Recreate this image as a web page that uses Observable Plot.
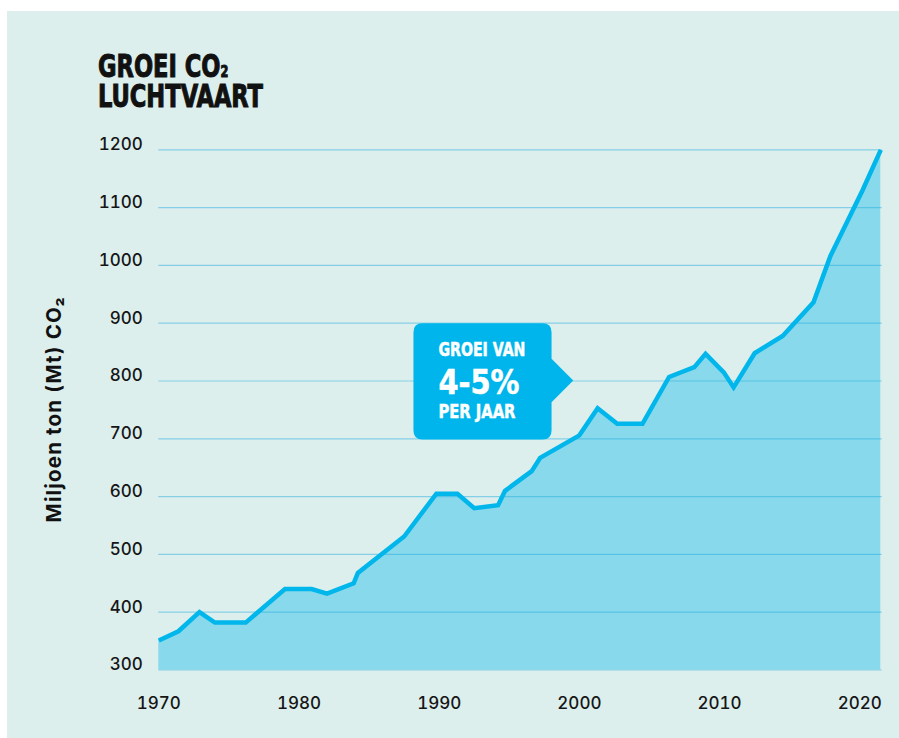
<!DOCTYPE html>
<html><head><meta charset="utf-8">
<script src="https://cdn.jsdelivr.net/npm/d3@7"></script>
<script src="https://cdn.jsdelivr.net/npm/@observablehq/plot@0.6"></script>
<style>
html,body{margin:0;padding:0;background:#fff;}
#card{position:absolute;left:7px;top:11px;width:892px;height:727px;background:#dcefed;overflow:hidden;}
.tl{position:absolute;left:91px;font-family:"DejaVu Sans",sans-serif;font-stretch:condensed;font-weight:700;font-size:32px;line-height:26px;height:26px;color:#111;transform-origin:0 0;white-space:nowrap;-webkit-text-stroke:1px #111;}
.tl span.l{display:inline-block;}
#chart{position:absolute;left:0;top:120px;}
</style></head><body>
<div id="card">
  <div class="tl" style="top:42px"><span class="l" id="t1">GROEI CO<span style="font-size:0.5em">2</span></span></div>
  <div class="tl" style="top:71.5px"><span class="l" id="t2">LUCHTVAART</span></div>
  <div id="chart"></div>
</div>
<script>
// Data
const years  = [1970.0, 1971.4, 1972.9, 1974.0, 1976.2, 1979.0, 1980.9, 1982.0, 1983.9, 1984.2, 1987.5, 1989.8, 1991.3, 1992.5, 1994.2, 1994.7, 1996.6, 1997.2, 2000.0, 2001.3, 2002.7, 2004.5, 2006.4, 2008.2, 2009.0, 2010.3, 2011.0, 2012.5, 2014.5, 2016.7, 2017.9, 2020.2, 2021.5];
const values = [351, 367, 400, 382, 382, 440, 440, 432, 450, 468, 531, 605, 605, 580, 585, 610, 644, 667, 706, 753, 726, 726, 807, 824, 847, 815, 789, 848, 878, 936, 1016, 1130, 1200];
const yTicks = [300, 400, 500, 600, 700, 800, 900, 1000, 1100, 1200];
const xTicks = [1970, 1980, 1990, 2000, 2010, 2020];
const axisLabel = "Miljoen ton (Mt) CO₂";
const noteLines = ["GROEI VAN", "4-5%", "PER JAAR"];
const note = {x1: 1988.2, x2: 1998.05, y1: 698, y2: 899, tipX: 1999.6, tipY: 800};

const data = years.map((year, i) => ({year, value: values[i]}));

const plot = Plot.plot({
  width: 892, height: 607,
  marginTop: 18.3, marginBottom: 68.5, marginLeft: 151.3, marginRight: 17.3,
  style: {background: "transparent", fontFamily: "Inter, 'Open Sans', sans-serif", fontSize: "17px", color: "#161616", overflow: "visible"},
  x: {domain: [1970, 2021.6]},
  y: {domain: [300, 1200]},
  marks: [
    Plot.areaY(data, {x: "year", y1: 300, y2: "value", fill: "#89d9ec"}),
    Plot.gridY(yTicks, {stroke: "#1ba8dd", strokeOpacity: 0.45, strokeWidth: 1.2}),
    Plot.lineY(data, {x: "year", y: "value", stroke: "#00b6eb", strokeWidth: 4.5, strokeLinejoin: "miter", strokeMiterlimit: 4, strokeLinecap: "butt"}),
    Plot.axisY(yTicks, {tickSize: 0, tickPadding: 16, dy: -5, label: null, tickFormat: d => String(d), fontSize: 17, fontWeight: 500}),
    Plot.axisX(xTicks, {tickSize: 0, tickPadding: 27, label: null, tickFormat: d => String(d), fontSize: 17, fontWeight: 500}),
    Plot.text([axisLabel], {frameAnchor: "left", dx: -104, rotate: -90, textAnchor: "middle", fontWeight: 700, fontSize: 20.5, fill: "#111"})
  ]
});
document.getElementById("chart").appendChild(plot);

const svg = d3.select(plot);
// stretch the y-axis label to the reference length
svg.selectAll("text").filter(function() { return this.textContent === axisLabel; })
  .attr("textLength", 225).attr("lengthAdjust", "spacing");

// Annotation bubble positioned through the plot's scales
const sx = plot.scale("x"), sy = plot.scale("y");
const L = sx.apply(note.x1), R = sx.apply(note.x2), T = sy.apply(note.y2), B = sy.apply(note.y1);
const tx = sx.apply(note.tipX), ty = sy.apply(note.tipY);
const r = 9, h = tx - R;
const g = svg.append("g").attr("text-anchor", "start");
g.append("path")
  .attr("d", `M${L+r},${T} H${R-r} Q${R},${T} ${R},${T+r} V${ty-h} L${tx},${ty} L${R},${ty+h} V${B-r} Q${R},${B} ${R-r},${B} H${L+r} Q${L},${B} ${L},${B-r} V${T+r} Q${L},${T} ${L+r},${T} Z`)
  .attr("fill", "#00b5eb");
const specs = [
  {dy: 32.7, size: 19.5, len: 87},
  {dy: 70.7, size: 33, len: 81},
  {dy: 95, size: 19.5, len: 77}
];
noteLines.forEach((s, i) => {
  g.append("text")
    .attr("x", L + 25).attr("y", T + specs[i].dy)
    .attr("text-anchor", "start")
    .attr("fill", "#fff").attr("font-family", "'DejaVu Sans',sans-serif")
    .attr("font-stretch", "condensed").attr("font-weight", 700)
    .attr("font-size", specs[i].size)
    .attr("stroke", "#fff").attr("stroke-width", 0.5)
    .attr("textLength", specs[i].len).attr("lengthAdjust", "spacingAndGlyphs")
    .text(s);
});

// Fit the condensed title to the reference width
const k = 165 / document.getElementById("t2").getBoundingClientRect().width;
document.querySelectorAll(".tl").forEach(el => el.style.transform = `scaleX(${k})`);
</script>
</body></html>
